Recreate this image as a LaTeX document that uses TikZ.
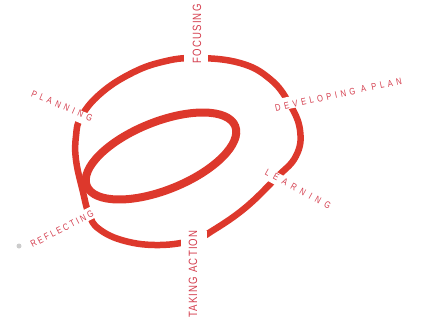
\documentclass[tikz,border=0pt]{standalone}
\usepackage{fontspec}
\newfontfamily\labfont[FakeStretch=0.8]{Liberation Sans}
\definecolor{ringred}{RGB}{221,56,44}
\definecolor{labred}{RGB}{212,62,78}
\tikzset{
  ring/.style={draw=ringred, line width=6.5pt, line cap=round},
  cut/.style={fill=white, draw=none, inner sep=0pt, minimum height=12pt},
  vlab/.style={text=labred, inner sep=0pt, rotate=90,
    font=\labfont\fontsize{12}{12}\selectfont\addfontfeature{LetterSpace=10}},
  slab/.style={text=labred, inner sep=0pt,
    font=\labfont\fontsize{9.5}{9.5}\selectfont},
}
\begin{document}
\begin{tikzpicture}[x=1pt,y=-1pt]
\useasboundingbox (0,0) rectangle (422,326);
% outer loop of the spiral
\draw[ring] plot[smooth cycle, tension=0.7] coordinates {
 (196,58) (240,63) (270,79) (289,103) (300,130) (296,156) (276,178)
 (245,208) (212,231) (194,240) (160,245) (125,241) (99,229) (89,214)
 (83,192) (76,160) (76,136) (81,117) (100,94) (130,74) (162,62)};
% inner loop
\draw[draw=ringred, line width=8pt] (161,156) ellipse [x radius=80pt, y radius=34pt, rotate=22];
% gaps where the labels cross
\node[cut, minimum width=24pt, minimum height=16pt] (c1) at (196,59) {};
\node[cut, minimum width=30pt, rotate=12] (c2) at (288,103) {};
\node[cut, minimum width=30pt, rotate=-29] (c3) at (275,178) {};
\node[cut, minimum width=26pt, minimum height=16pt] (c4) at (194,239) {};
\node[cut, minimum width=26pt, rotate=27] (c5) at (89,214) {};
\node[cut, minimum width=26pt, rotate=-23] (c6) at (81,117) {};
% labels
\node[vlab] (focus) at (197,34) {FOCUSING};
\node[vlab] (act) at (193,274) {TAKING ACTION};
\node[slab, rotate=12, anchor=west] (plan) at (275,108) {\addfontfeature{LetterSpace=38}DEVELOPING A PLAN};
\node[slab, rotate=-23] (planning) at (62,106) {\addfontfeature{LetterSpace=40}PLANNING};
\node[slab, rotate=-29] (learn) at (298,189) {\addfontfeature{LetterSpace=52}LEARNING};
\node[slab, rotate=27] (reflect) at (62,229) {\addfontfeature{LetterSpace=25}REFLECTING};
\fill[gray!40] (19,246) circle (2.5pt);
\end{tikzpicture}
\end{document}
